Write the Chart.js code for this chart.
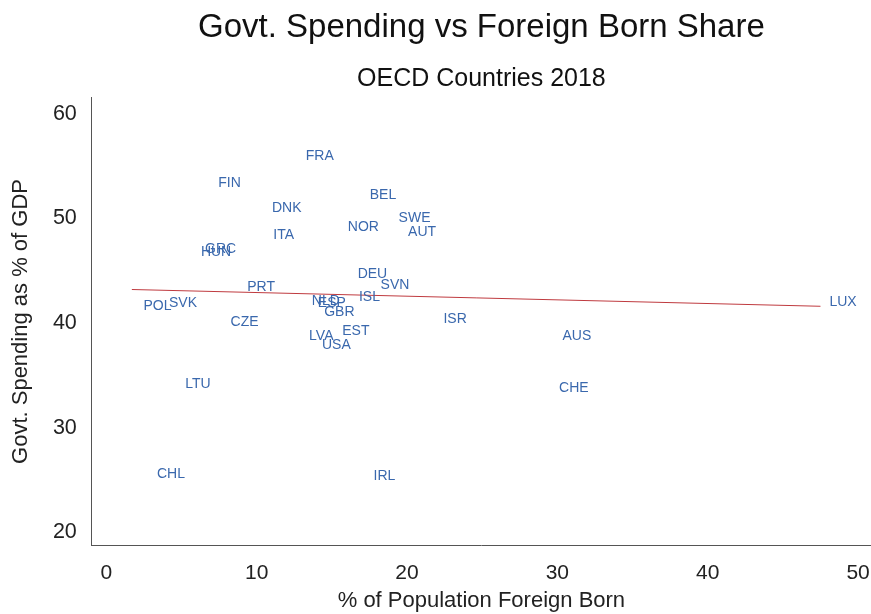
<!DOCTYPE html>
<html>
<head>
<meta charset="utf-8">
<script src="https://cdn.jsdelivr.net/npm/chart.js@4/dist/chart.umd.min.js"></script>
<style>
  html, body { margin: 0; padding: 0; background: #fff; }
  #wrap { width: 871px; height: 614px; }
</style>
</head>
<body>
<div id="wrap"><canvas id="chart" width="871" height="614"></canvas></div>
<script>
// country codes + values
const COUNTRIES = ['FRA','FIN','BEL','DNK','SWE','AUT','NOR','ITA','GRC','HUN',
  'DEU','SVN','PRT','ISL','NLD','ESP','GBR','POL','SVK','LUX',
  'ISR','CZE','EST','LVA','USA','AUS','CHE','LTU','CHL','IRL'];
const FOREIGN_BORN = [14.2, 8.2, 18.4, 12.0, 20.5, 21.0, 17.1, 11.8, 7.6, 7.3,
  17.7, 19.2, 10.3, 17.5, 14.6, 15.0, 15.5, 3.4, 5.1, 49.0,
  23.2, 9.2, 16.6, 14.3, 15.3, 31.3, 31.1, 6.1, 4.3, 18.5];
const GOVT_SPENDING = [55.9, 53.4, 52.2, 51.0, 50.0, 48.7, 49.2, 48.4, 47.1, 46.8,
  44.7, 43.6, 43.4, 42.5, 42.1, 41.9, 41.0, 41.6, 41.9, 42.0,
  40.4, 40.1, 39.2, 38.7, 37.9, 38.7, 33.8, 34.2, 25.6, 25.4];

// fitted line end points
const FIT_X = [1.7, 47.5];
const FIT_Y = [43.2, 41.6];

const X_TICKS = [0, 10, 20, 30, 40, 50];
const Y_TICKS = [20, 30, 40, 50, 60];

const LABEL_COLOR = '#3a68ad';
const FONT = '"Liberation Sans", Arial, sans-serif';

// draw country codes where the points are
const codeLabels = {
  id: 'codeLabels',
  afterDatasetsDraw(chart) {
    const meta = chart.getDatasetMeta(0);
    const ctx = chart.ctx;
    ctx.save();
    ctx.font = '14px ' + FONT;
    ctx.fillStyle = LABEL_COLOR;
    ctx.textAlign = 'center';
    ctx.textBaseline = 'middle';
    meta.data.forEach((pt, i) => ctx.fillText(COUNTRIES[i], pt.x, pt.y));
    ctx.restore();
  }
};

new Chart(document.getElementById('chart'), {
  type: 'scatter',
  data: {
    datasets: [
      {
        label: 'Countries',
        data: FOREIGN_BORN.map((x, i) => ({ x, y: GOVT_SPENDING[i] })),
        pointRadius: 0,
        pointHoverRadius: 0
      },
      {
        label: 'Fit',
        type: 'line',
        data: FIT_X.map((x, i) => ({ x, y: FIT_Y[i] })),
        borderColor: '#bf3a3f',
        borderWidth: 1,
        pointRadius: 0,
        fill: false
      }
    ]
  },
  options: {
    responsive: false,
    animation: false,
    layout: { padding: 0 },
    plugins: {
      legend: { display: false },
      tooltip: { enabled: false },
      title: {
        display: true,
        text: 'Govt. Spending vs Foreign Born Share',
        color: '#111',
        font: { family: FONT, size: 33, weight: 'normal' },
        padding: { top: 8, bottom: 0 },
        fullSize: false
      },
      subtitle: {
        display: true,
        text: 'OECD Countries 2018',
        color: '#111',
        font: { family: FONT, size: 25, weight: 'normal' },
        padding: { top: 17, bottom: 3 },
        fullSize: false
      }
    },
    scales: {
      x: {
        type: 'linear',
        min: -0.963,
        max: 50.86,
        afterBuildTicks: s => { s.ticks = X_TICKS.map(v => ({ value: v })); },
        grid: { display: false, drawTicks: true, tickLength: 15 },
        border: { display: true, color: '#555', width: 1 },
        ticks: { color: '#222', padding: 0, font: { family: FONT, size: 21 } },
        title: {
          display: true,
          text: '% of Population Foreign Born',
          color: '#222',
          font: { family: FONT, size: 22 },
          padding: { top: 2, bottom: 0 }
        }
      },
      y: {
        type: 'linear',
        min: 18.76,
        max: 61.53,
        afterBuildTicks: s => { s.ticks = Y_TICKS.map(v => ({ value: v })); },
        grid: { display: false, drawTicks: false },
        border: { display: true, color: '#555', width: 1 },
        ticks: { color: '#222', padding: 15, font: { family: FONT, size: 21.5 } },
        title: {
          display: true,
          text: 'Govt. Spending as % of GDP',
          color: '#222',
          font: { family: FONT, size: 22 },
          padding: { top: 7.5, bottom: 4 }
        }
      }
    }
  },
  plugins: [codeLabels]
});
</script>
</body>
</html>
